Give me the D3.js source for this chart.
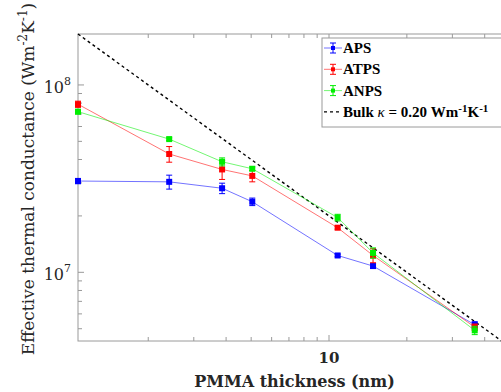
<!DOCTYPE html>
<html>
<head>
<meta charset="utf-8">
<script src="https://cdn.jsdelivr.net/npm/d3@7"></script>
<style>
  body { margin: 0; background: #fff; }
  text { font-family: "DejaVu Serif", serif; fill: #262626; }
</style>
</head>
<body>
<div id="chart"></div>
<script>
// PMMA thickness (nm) of each sample
const thickness = [1.07, 2.41, 3.86, 5.05, 10.8, 14.8, 36.6];

// effective thermal conductance (W m^-2 K^-1) and error bars
const apsValues  = [3.07e7, 3.04e7, 2.81e7, 2.38e7, 1.23e7, 1.08e7, 5.25e6];
const apsErr     = [1.0e6, 2.6e6, 1.8e6, 1.1e6, 0.2e6, 0.3e6, 0.2e6];
const atpsValues = [7.89e7, 4.28e7, 3.54e7, 3.27e7, 1.73e7, 1.23e7, 5.1e6];
const atpsErr    = [3.0e6, 4.1e6, 4.1e6, 2.3e6, 0.3e6, 1.05e6, 0.2e6];
const anpsValues = [7.2e7, 5.14e7, 3.89e7, 3.57e7, 1.96e7, 1.27e7, 4.9e6];
const anpsErr    = [2.0e6, 0.8e6, 1.9e6, 0.8e6, 0.8e6, 0.8e6, 0.25e6];

const bulkKappa = 0.20; // W m^-1 K^-1

const series = [
  { name: 'APS',  values: apsValues,  err: apsErr,  color: '#0000ff' },
  { name: 'ATPS', values: atpsValues, err: atpsErr, color: '#ff0000' },
  { name: 'ANPS', values: anpsValues, err: anpsErr, color: '#00ee00' }
];

const width = 501, height = 392;
const plot = { left: 78, right: 504, top: 34, bottom: 341 };

const svg = d3.select('#chart').append('svg')
  .attr('width', width)
  .attr('height', height);

const x = d3.scaleLog().domain([1.07, 47.5]).range([plot.left, plot.right]);
const y = d3.scaleLog().domain([4.3e6, 1.87e8]).range([plot.bottom, plot.top]);

// axes (ticks inward, grey box)
const axisColor = '#9a9a9a';
const xTicks = x.ticks().filter(d => d > 1.07 && d < 47.5);
const yTicks = y.ticks();

const axes = svg.append('g');
axes.append('rect')
  .attr('x', plot.left).attr('y', plot.top)
  .attr('width', plot.right - plot.left).attr('height', plot.bottom - plot.top)
  .attr('fill', 'none').attr('stroke', axisColor).attr('stroke-width', 1);

const isMajor = d => Math.abs(Math.log10(d) - Math.round(Math.log10(d))) < 1e-9;

xTicks.forEach(d => {
  const len = isMajor(d) ? 6 : 4;
  axes.append('line').attr('x1', x(d)).attr('x2', x(d))
    .attr('y1', plot.bottom).attr('y2', plot.bottom - len)
    .attr('stroke', axisColor);
  axes.append('line').attr('x1', x(d)).attr('x2', x(d))
    .attr('y1', plot.top).attr('y2', plot.top + len)
    .attr('stroke', axisColor);
});
yTicks.forEach(d => {
  const len = isMajor(d) ? 6 : 4;
  axes.append('line').attr('x1', plot.left).attr('x2', plot.left + len)
    .attr('y1', y(d)).attr('y2', y(d))
    .attr('stroke', axisColor);
});

// tick labels
xTicks.filter(isMajor).forEach(d => {
  svg.append('text')
    .attr('x', x(d)).attr('y', plot.bottom + 22)
    .attr('text-anchor', 'middle')
    .style('font-size', '15px').style('font-weight', 'bold')
    .text(d);
});
yTicks.filter(isMajor).forEach(d => {
  const t = svg.append('text')
    .attr('x', plot.left - 7).attr('y', y(d) + 8)
    .attr('text-anchor', 'end')
    .style('font-size', '16px');
  t.append('tspan').text('10');
  t.append('tspan').attr('dy', -8).style('font-size', '11px').text(Math.round(Math.log10(d)));
});

// axis titles
svg.append('text')
  .attr('x', (plot.left + 501) / 2 + 5).attr('y', 387)
  .attr('text-anchor', 'middle')
  .style('font-size', '16px').style('font-weight', 'bold')
  .text('PMMA thickness (nm)');

const yl = svg.append('text')
  .attr('transform', 'translate(34,179) rotate(-90)')
  .attr('text-anchor', 'middle')
  .style('font-size', '17px');
yl.append('tspan').text('Effective thermal conductance (Wm');
yl.append('tspan').attr('dy', -7).style('font-size', '12px').text('-2');
yl.append('tspan').attr('dy', 7).text('K');
yl.append('tspan').attr('dy', -7).style('font-size', '12px').text('-1');
yl.append('tspan').attr('dy', 7).text(')');

// bulk line: G = kappa / d
const bulk = x.domain().map(d => [d, bulkKappa / (d * 1e-9)]);
svg.append('path')
  .datum(bulk)
  .attr('d', d3.line().x(d => x(d[0])).y(d => y(d[1])))
  .attr('fill', 'none')
  .attr('stroke', '#000')
  .attr('stroke-width', 1.4)
  .attr('stroke-dasharray', '3,3');

// series
const line = d3.line().x(d => x(d[0])).y(d => y(d[1]));
series.forEach(s => {
  const pts = thickness.map((t, i) => [t, s.values[i], s.err[i]]);
  const g = svg.append('g');
  g.append('path')
    .datum(pts)
    .attr('d', line)
    .attr('fill', 'none')
    .attr('stroke', s.color)
    .attr('stroke-opacity', 0.55)
    .attr('stroke-width', 1);
  pts.forEach(p => {
    const cx = x(p[0]);
    const y1 = y(p[1] + p[2]), y2 = y(p[1] - p[2]);
    g.append('line').attr('x1', cx).attr('x2', cx).attr('y1', y1).attr('y2', y2)
      .attr('stroke', s.color).attr('stroke-width', 1);
    [y1, y2].forEach(yy => g.append('line')
      .attr('x1', cx - 3).attr('x2', cx + 3).attr('y1', yy).attr('y2', yy)
      .attr('stroke', s.color).attr('stroke-width', 1));
    g.append('rect')
      .attr('x', cx - 3).attr('y', y(p[1]) - 3)
      .attr('width', 6).attr('height', 6)
      .attr('fill', s.color);
  });
});

// legend
const legend = svg.append('g').attr('transform', 'translate(322,38)');
legend.append('rect')
  .attr('width', 200).attr('height', 89)
  .attr('fill', '#fff').attr('stroke', axisColor);

const entries = series.concat([{ name: 'bulk', color: '#000' }]);
entries.forEach((s, i) => {
  const ly = 10 + i * 21.3;
  const e = legend.append('g').attr('transform', `translate(0,${ly})`);
  if (s.name === 'bulk') {
    e.append('line').attr('x1', 2).attr('x2', 20).attr('y1', 0).attr('y2', 0)
      .attr('stroke', '#000').attr('stroke-width', 1.2).attr('stroke-dasharray', '3,3');
  } else {
    e.append('line').attr('x1', 2).attr('x2', 20).attr('y1', 0).attr('y2', 0)
      .attr('stroke', s.color).attr('stroke-opacity', 0.55);
    e.append('line').attr('x1', 11).attr('x2', 11).attr('y1', -5).attr('y2', 5)
      .attr('stroke', s.color);
    [-5, 5].forEach(v => e.append('line').attr('x1', 8).attr('x2', 14).attr('y1', v).attr('y2', v)
      .attr('stroke', s.color));
    e.append('rect').attr('x', 9).attr('y', -2).attr('width', 4).attr('height', 4).attr('fill', s.color);
  }
  const t = e.append('text').attr('x', 21).attr('y', 5)
    .style('font-family', '"Liberation Serif", serif')
    .style('font-size', '15px').style('font-weight', 'bold').style('fill', '#000');
  if (s.name === 'bulk') {
    t.append('tspan').text('Bulk ');
    t.append('tspan').style('font-style', 'italic').style('font-weight', 'normal').text('κ');
    t.append('tspan').text(' = 0.20 Wm');
    t.append('tspan').attr('dy', -5).style('font-size', '11px').text('-1');
    t.append('tspan').attr('dy', 5).text('K');
    t.append('tspan').attr('dy', -5).style('font-size', '11px').text('-1');
  } else {
    t.text(s.name);
  }
});
</script>
</body>
</html>
